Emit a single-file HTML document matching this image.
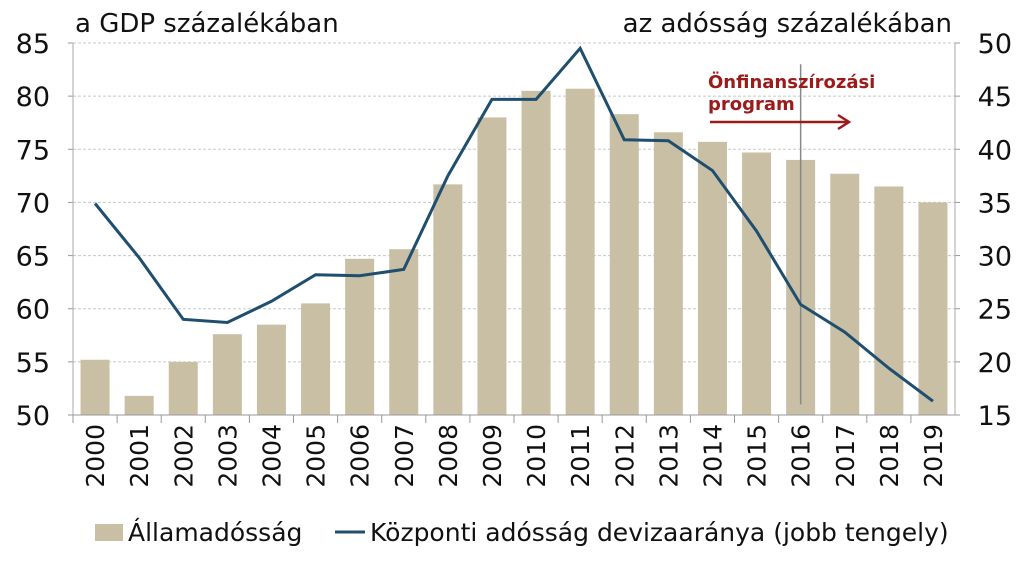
<!DOCTYPE html>
<html><head><meta charset="utf-8"><style>
body{margin:0;background:#fff;}
svg text{font-family:"DejaVu Sans","Liberation Sans",sans-serif;fill:#111;}
</style></head><body>
<svg width="1024" height="558" id="c"></svg>
<script>
const years=["2000","2001","2002","2003","2004","2005","2006","2007","2008","2009","2010","2011","2012","2013","2014","2015","2016","2017","2018","2019"];
const debt=[55.2,51.8,55,57.6,58.5,60.5,64.7,65.6,71.7,78,80.5,80.7,78.3,76.6,75.7,74.7,74,72.7,71.5,70];
const fxShare=[34.9,29.8,24,23.7,25.7,28.2,28.1,28.7,37.5,44.7,44.7,49.5,40.9,40.8,38,32.3,25.4,22.8,19.4,16.3];
const leftTicks=[50,55,60,65,70,75,80,85];
const rightTicks=[15,20,25,30,35,40,45,50];
const NS="http://www.w3.org/2000/svg";
const svg=document.getElementById('c');
const X0=73,X1=955,Y0=415,Y1=43;
const step=(X1-X0)/years.length;
const xc=i=>X0+step*(i+0.5);
const yl=v=>Y0-(v-50)/35*(Y0-Y1);
const yr=v=>Y0-(v-15)/35*(Y0-Y1);
function mk(t,a,p){const e=document.createElementNS(NS,t);for(const k in a)e.setAttribute(k,a[k]);(p||svg).appendChild(e);return e;}
leftTicks.forEach(v=>{
 if(v>50){const g=mk('line',{x1:X0,x2:X1,y1:yl(v),y2:yl(v),stroke:'#c8c8c8','stroke-dasharray':'3,2'});
 
 }
 const t=mk('text',{x:50,y:yl(v)+10,'font-size':27,'text-anchor':'end'});t.textContent=v;
 
 
 mk('line',{x1:X0-5,x2:X0,y1:yl(v),y2:yl(v),stroke:'#999'});
});
rightTicks.forEach(v=>{
 const t=mk('text',{x:1012,y:yr(v)+10,'font-size':27,'text-anchor':'end'});t.textContent=v;
 
 
 mk('line',{x1:X1,x2:X1+5,y1:yr(v),y2:yr(v),stroke:'#999'});
});
debt.forEach((v,i)=>{
 const b=mk('rect',{x:xc(i)-14.5,y:yl(v),width:29,height:Y0-yl(v),fill:'#c8bfa5'});
 
 
});
mk('line',{x1:X0,x2:X0,y1:Y1,y2:Y0,stroke:'#aaa'});
mk('line',{x1:X1,x2:X1,y1:Y1,y2:Y0,stroke:'#aaa'});
mk('line',{x1:X0,x2:X1,y1:Y0,y2:Y0,stroke:'#999'});
years.forEach((y,i)=>{
 mk('line',{x1:X0+step*i,x2:X0+step*i,y1:Y0,y2:Y0+8,stroke:'#999'});
 const t=mk('text',{x:0,y:0,'font-size':25,'text-anchor':'end',transform:`translate(${xc(i)+9},${Y0+9}) rotate(-90)`});t.textContent=y;
 
 
});
mk('line',{x1:xc(16),x2:xc(16),y1:yl(83),y2:yl(51),stroke:'#888','stroke-width':1.5});
const pts=fxShare.map((v,i)=>xc(i)+','+yr(v)).join(' ');
const pl=mk('polyline',{points:pts,fill:'none',stroke:'#1f4e6e','stroke-width':3});


const a1=mk('text',{x:708,y:88,'font-size':18,'font-weight':'bold',style:'fill:#9b1b1b'});a1.textContent='Önfinanszírozási';


const a2=mk('text',{x:708,y:110,'font-size':18,'font-weight':'bold',style:'fill:#9b1b1b'});a2.textContent='program';


mk('line',{x1:710,x2:848,y1:122,y2:122,stroke:'#9b1b1b','stroke-width':2.5});
mk('polyline',{points:'838,115 849,122 838,129',fill:'none',stroke:'#9b1b1b','stroke-width':2.5});
const tl=mk('text',{x:75,y:32,'font-size':26});tl.textContent='a GDP százalékában';


const tr=mk('text',{x:952,y:32,'font-size':26,'text-anchor':'end'});tr.textContent='az adósság százalékában';


const lr=mk('rect',{x:95,y:524,width:28,height:17,fill:'#c8bfa5'});


const l1=mk('text',{x:128,y:541,'font-size':25});l1.textContent='Államadósság';


mk('line',{x1:335,x2:365,y1:532,y2:532,stroke:'#1f4e6e','stroke-width':3});
const l2=mk('text',{x:370,y:541,'font-size':25});l2.textContent='Központi adósság devizaaránya (jobb tengely)';


</script>
</body></html>
